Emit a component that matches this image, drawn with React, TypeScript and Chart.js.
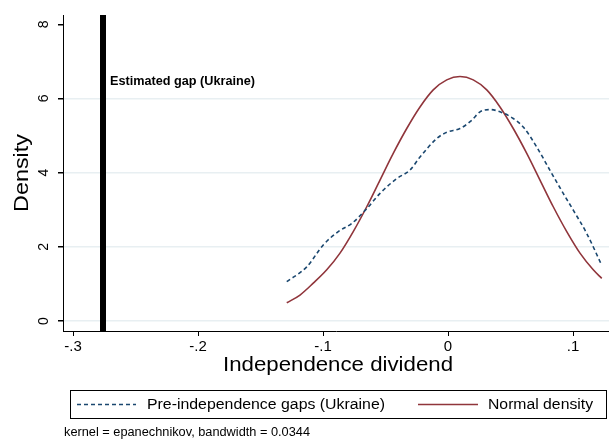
import React, { useEffect, useRef } from "react";
import { Chart, registerables } from "chart.js";

Chart.register(...registerables);

// Pre-independence gaps (Ukraine) – kernel density (dashed)
const kdeX = [-0.129, -0.113, -0.0998, -0.0878, -0.077, -0.065, -0.0544, -0.041, -0.0304, -0.0224, -0.009, -0.001, 0.0096, 0.019, 0.0256, 0.0336, 0.0416, 0.0522, 0.0602, 0.071, 0.0816, 0.0922, 0.1002, 0.111, 0.123];
const kdeY = [1.06, 1.46, 2.05, 2.41, 2.63, 3.03, 3.44, 3.84, 4.07, 4.42, 4.92, 5.09, 5.19, 5.41, 5.64, 5.7, 5.64, 5.46, 5.23, 4.69, 4.06, 3.44, 2.99, 2.36, 1.5];

// Normal density (solid)
const normX = [-0.129, -0.1184, -0.1078, -0.097, -0.0864, -0.0758, -0.065, -0.0544, -0.0438, -0.033, -0.0224, -0.0118, -0.001, 0.0096, 0.0202, 0.031, 0.0416, 0.0522, 0.063, 0.0736, 0.0842, 0.095, 0.1056, 0.1162, 0.123];
const normY = [0.49, 0.7, 1.02, 1.38, 1.83, 2.41, 3.08, 3.8, 4.52, 5.19, 5.77, 6.23, 6.5, 6.59, 6.5, 6.23, 5.77, 5.19, 4.52, 3.8, 3.08, 2.41, 1.83, 1.38, 1.15];

// Estimated gap (Ukraine)
const gapX = -0.276;
const gapLabel = "Estimated gap (Ukraine)";

const xTicks = [-0.3, -0.2, -0.1, 0, 0.1];
const yTicks = [0, 2, 4, 6, 8];
const seriesLabels = ["Pre-independence gaps (Ukraine)", "Normal density"];
const xTitle = "Independence dividend";
const yTitle = "Density";
const note = "kernel = epanechnikov, bandwidth = 0.0344";

const X_MIN = -0.308;
const X_MAX = 0.1288;
const Y_MIN = -0.27;
const Y_MAX = 8.25;

const NAVY = "#1a476f";
const MAROON = "#90353b";
const FONT = "'Liberation Sans', Arial, Helvetica, sans-serif";

function fmtTick(v: number): string {
  if (Math.abs(v) < 1e-9) return "0";
  const s = String(Math.round(v * 10) / 10);
  return s.replace("0.", ".");
}

function fitText(ctx: CanvasRenderingContext2D, text: string, x: number, y: number, width: number, align: "left" | "center") {
  const w = ctx.measureText(text).width;
  ctx.save();
  ctx.translate(x, y);
  ctx.scale(width / w, 1);
  ctx.textAlign = align;
  ctx.fillText(text, 0, 0);
  ctx.restore();
}

const decoPlugin = {
  id: "deco",
  afterDatasetsDraw(chart: any) {
    const ctx = chart.ctx as CanvasRenderingContext2D;
    const xs = chart.scales.x;
    ctx.save();
    ctx.fillStyle = "#000";
    ctx.font = `bold 12px ${FONT}`;
    ctx.textBaseline = "middle";
    fitText(ctx, gapLabel, xs.getPixelForValue(gapX) + 7, 82, 145, "left");
    ctx.restore();
  },
  afterDraw(chart: any) {
    const ctx = chart.ctx as CanvasRenderingContext2D;
    const ys = chart.scales.y;
    const area = chart.chartArea;
    ctx.save();
    ctx.fillStyle = "#000";
    ctx.textBaseline = "middle";

    // y tick labels rotated
    ctx.font = `14px ${FONT}`;
    ctx.textAlign = "center";
    for (const t of yTicks) {
      const py = ys.getPixelForValue(t);
      ctx.save();
      ctx.translate(44, py);
      ctx.rotate(-Math.PI / 2);
      ctx.fillText(String(t), 0, 0);
      ctx.restore();
    }

    // y title
    ctx.font = `21px ${FONT}`;
    ctx.save();
    ctx.translate(22, (area.top + area.bottom) / 2);
    ctx.rotate(-Math.PI / 2);
    fitText(ctx, yTitle, 0, 0, 78, "center");
    ctx.restore();

    // x title
    ctx.font = `21px ${FONT}`;
    fitText(ctx, xTitle, (area.left + area.right) / 2 + 2, 365, 230, "center");

    // legend box
    const bx = 70, by = 390, bw = 536, bh = 28;
    ctx.strokeStyle = "#000";
    ctx.lineWidth = 1;
    ctx.strokeRect(bx + 0.5, by + 0.5, bw, bh);
    const ly = by + bh / 2 + 0.5;
    const ds = chart.data.datasets;
    const items = [
      { ds: ds[0], x0: 77, x1: 136, tx: 147, tw: 238, label: seriesLabels[0] },
      { ds: ds[1], x0: 418, x1: 478, tx: 488, tw: 105, label: seriesLabels[1] },
    ];
    ctx.font = `15.5px ${FONT}`;
    for (const it of items) {
      ctx.save();
      ctx.strokeStyle = it.ds.borderColor;
      ctx.lineWidth = it.ds.borderWidth;
      ctx.setLineDash(it.ds.borderDash || []);
      ctx.beginPath();
      ctx.moveTo(it.x0, ly);
      ctx.lineTo(it.x1, ly);
      ctx.stroke();
      ctx.restore();
      fitText(ctx, it.label, it.tx, ly, it.tw, "left");
    }

    // note
    ctx.font = `12.5px ${FONT}`;
    fitText(ctx, note, 64, 433, 246, "left");
    ctx.restore();
  },
};

export default function App() {
  const ref = useRef<HTMLCanvasElement | null>(null);
  useEffect(() => {
    document.body.style.margin = "0";
    if (!ref.current) return;
    const chart = new Chart(ref.current, {
      type: "line",
      data: {
        datasets: [
          {
            label: seriesLabels[0],
            data: kdeX.map((x, i) => ({ x, y: kdeY[i] })),
            borderColor: NAVY,
            borderWidth: 1.6,
            borderDash: [4, 3],
            pointRadius: 0,
            cubicInterpolationMode: "monotone",
            fill: false,
          },
          {
            label: seriesLabels[1],
            data: normX.map((x, i) => ({ x, y: normY[i] })),
            borderColor: MAROON,
            borderWidth: 1.6,
            pointRadius: 0,
            cubicInterpolationMode: "monotone",
            fill: false,
          },
          {
            label: gapLabel,
            data: [
              { x: gapX, y: Y_MIN },
              { x: gapX, y: Y_MAX },
            ],
            borderColor: "#000",
            borderWidth: 6,
            pointRadius: 0,
            fill: false,
          },
        ],
      },
      options: {
        animation: false,
        responsive: false,
        maintainAspectRatio: false,
        layout: { padding: { left: 0, right: 0, top: 15, bottom: 0 } },
        plugins: {
          legend: { display: false },
          tooltip: { enabled: false },
          title: { display: false },
        },
        scales: {
          x: {
            type: "linear",
            min: X_MIN,
            max: X_MAX,
            afterBuildTicks: (s: any) => {
              s.ticks = xTicks.map((v) => ({ value: v }));
            },
            afterFit: (s: any) => {
              s.height = 108;
            },
            ticks: {
              callback: (v: any) => fmtTick(Number(v)),
              color: "#000",
              font: { size: 15, family: FONT },
              padding: 2,
              maxRotation: 0,
              minRotation: 0,
            },
            grid: {
              drawOnChartArea: false,
              drawTicks: true,
              tickLength: 5,
              tickColor: "#000",
              tickWidth: 1,
            },
            border: { display: true, color: "#000", width: 1 },
          },
          y: {
            type: "linear",
            min: Y_MIN,
            max: Y_MAX,
            afterBuildTicks: (s: any) => {
              s.ticks = yTicks.map((v) => ({ value: v }));
            },
            afterFit: (s: any) => {
              s.width = 63;
            },
            ticks: { display: false },
            grid: {
              drawOnChartArea: true,
              drawTicks: true,
              tickLength: 5,
              tickColor: "#000",
              color: (c: any) => (c.tick && c.tick.value === 8 ? "rgba(0,0,0,0)" : "#e8eff2"),
              lineWidth: 1.5,
            },
            border: { display: true, color: "#000", width: 1 },
          },
        },
      },
      plugins: [decoPlugin],
    } as any);
    return () => chart.destroy();
  }, []);
  return (
    <div style={{ width: 609, height: 439, background: "#fff" }}>
      <canvas ref={ref} width={609} height={439} style={{ display: "block" }} />
    </div>
  );
}
